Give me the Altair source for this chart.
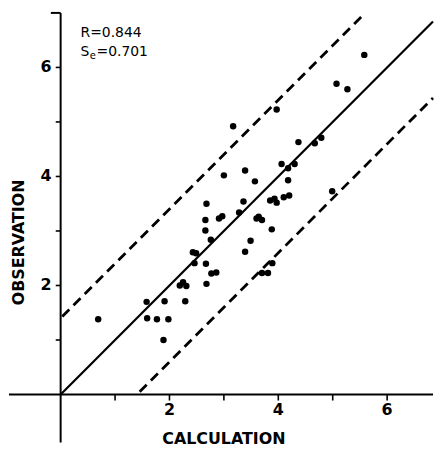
import altair as alt
import pandas as pd

# ---- data ----
calculation = [0.69, 1.58, 1.91, 1.59, 1.77, 1.98, 1.89, 2.19, 2.25, 2.31, 2.29, 2.68,
               2.46, 2.67, 2.77, 2.86, 2.43, 2.49, 2.76, 2.66, 2.66, 2.91, 2.97, 2.68,
               3.00, 3.17, 3.39, 3.57, 3.28, 3.36, 3.39, 3.49, 3.64, 3.60, 3.70, 3.88,
               3.70, 3.81, 3.89, 3.97, 4.06, 4.18, 4.30, 4.18, 3.85, 3.93, 3.97, 4.10,
               4.20, 4.99, 4.37, 4.67, 4.79, 5.07, 5.27, 5.58]
observation = [1.38, 1.70, 1.71, 1.40, 1.38, 1.38, 1.00, 2.00, 2.06, 1.99, 1.71, 2.03,
               2.41, 2.40, 2.22, 2.24, 2.61, 2.59, 2.84, 3.01, 3.20, 3.23, 3.27, 3.50,
               4.02, 4.92, 4.11, 3.91, 3.34, 3.54, 2.62, 2.82, 3.26, 3.23, 3.20, 3.03,
               2.23, 2.23, 2.41, 5.23, 4.23, 4.15, 4.23, 3.93, 3.56, 3.59, 3.52, 3.62,
               3.65, 3.73, 4.63, 4.61, 4.71, 5.70, 5.60, 6.23]
x_ticks = [1, 2, 3, 4, 5, 6]
y_ticks = [1, 2, 3, 4, 5, 6]
x_tick_labels = ["2", "4", "6"]
y_tick_labels = ["2", "4", "6"]
R_text = "R=0.844"
Se_value = 0.701
x_title = "CALCULATION"
y_title = "OBSERVATION"

# ---- layout (data units) ----
XMIN, XMAX = -0.949, 6.843
YMIN, YMAX = -0.880, 7.062
band = 2 * Se_value

xs = alt.Scale(domain=[XMIN, XMAX], nice=False, zero=False)
ys = alt.Scale(domain=[YMIN, YMAX], nice=False, zero=False)

def enc4():
    return dict(
        x=alt.X("x:Q", scale=xs, axis=None),
        y=alt.Y("y:Q", scale=ys, axis=None),
        x2="x2:Q",
        y2="y2:Q",
    )

axes_df = pd.DataFrame([
    dict(x=XMIN, y=0, x2=XMAX, y2=0),
    dict(x=0, y=YMIN, x2=0, y2=7.0),
    dict(x=0, y=7.0, x2=-0.18, y2=7.0),
])
ticks_rows = [dict(x=v, y=0, x2=v, y2=-0.11) for v in x_ticks]
ticks_rows += [dict(x=0, y=v, x2=-0.09, y2=v) for v in y_ticks]
ticks_df = pd.DataFrame(ticks_rows)

solid_df = pd.DataFrame([dict(x=0, y=0, x2=XMAX, y2=XMAX)])
dashed_df = pd.DataFrame([
    dict(x=0.03, y=0.03 + band, x2=7.0 - band, y2=7.0),
    dict(x=band + 0.05, y=0.05, x2=XMAX, y2=XMAX - band),
])

pts_df = pd.DataFrame({"x": calculation, "y": observation})

axes = alt.Chart(axes_df).mark_rule(color="black", strokeWidth=2).encode(**enc4())
ticks = alt.Chart(ticks_df).mark_rule(color="black", strokeWidth=1.6).encode(**enc4())
solid = alt.Chart(solid_df).mark_rule(color="black", strokeWidth=2.2).encode(**enc4())
dashed = alt.Chart(dashed_df).mark_rule(
    color="black", strokeWidth=2.8, strokeDash=[10, 6]
).encode(**enc4())

points = alt.Chart(pts_df).mark_circle(color="black", size=42, opacity=1).encode(
    x=alt.X("x:Q", scale=xs, axis=None),
    y=alt.Y("y:Q", scale=ys, axis=None),
)

font = "DejaVu Sans"
xlab_df = pd.DataFrame({"x": [2, 4, 6], "y": [-0.28] * 3, "t": x_tick_labels})
ylab_df = pd.DataFrame({"x": [-0.27] * 3, "y": [2, 4, 6], "t": y_tick_labels})

xlabels = alt.Chart(xlab_df).mark_text(
    font=font, fontSize=16, fontWeight="bold", baseline="middle", align="center"
).encode(x=alt.X("x:Q", scale=xs, axis=None), y=alt.Y("y:Q", scale=ys, axis=None), text="t:N")
ylabels = alt.Chart(ylab_df).mark_text(
    font=font, fontSize=16, fontWeight="bold", baseline="middle", align="center"
).encode(x=alt.X("x:Q", scale=xs, axis=None), y=alt.Y("y:Q", scale=ys, axis=None), text="t:N")

xtitle = alt.Chart(pd.DataFrame({"x": [3.0], "y": [-0.81], "t": [x_title]})).mark_text(
    font=font, fontSize=16, fontWeight="bold", baseline="middle", align="center"
).encode(x=alt.X("x:Q", scale=xs, axis=None), y=alt.Y("y:Q", scale=ys, axis=None), text="t:N")
ytitle = alt.Chart(pd.DataFrame({"x": [-0.76], "y": [2.79], "t": [y_title]})).mark_text(
    font=font, fontSize=16, fontWeight="bold", baseline="middle", align="center", angle=270
).encode(x=alt.X("x:Q", scale=xs, axis=None), y=alt.Y("y:Q", scale=ys, axis=None), text="t:N")

ann_df = pd.DataFrame({
    "x": [0.365, 0.365, 0.535, 0.66],
    "y": [6.56, 6.21, 6.15, 6.21],
    "t": [R_text, "S", "e", "=" + f"{Se_value:.3f}"],
    "fs": [14, 14, 10, 14],
})
ann = alt.Chart(ann_df).mark_text(
    font=font, align="left", baseline="alphabetic"
).encode(
    x=alt.X("x:Q", scale=xs, axis=None),
    y=alt.Y("y:Q", scale=ys, axis=None),
    text="t:N",
    size=alt.Size("fs:Q", scale=None, legend=None),
)

chart = alt.layer(
    axes, ticks, dashed, solid, points, xlabels, ylabels, xtitle, ytitle, ann
).properties(width=427, height=436, padding=0).configure_view(stroke=None)

chart.save("out.html", embed_options={"renderer": "svg", "actions": False})
